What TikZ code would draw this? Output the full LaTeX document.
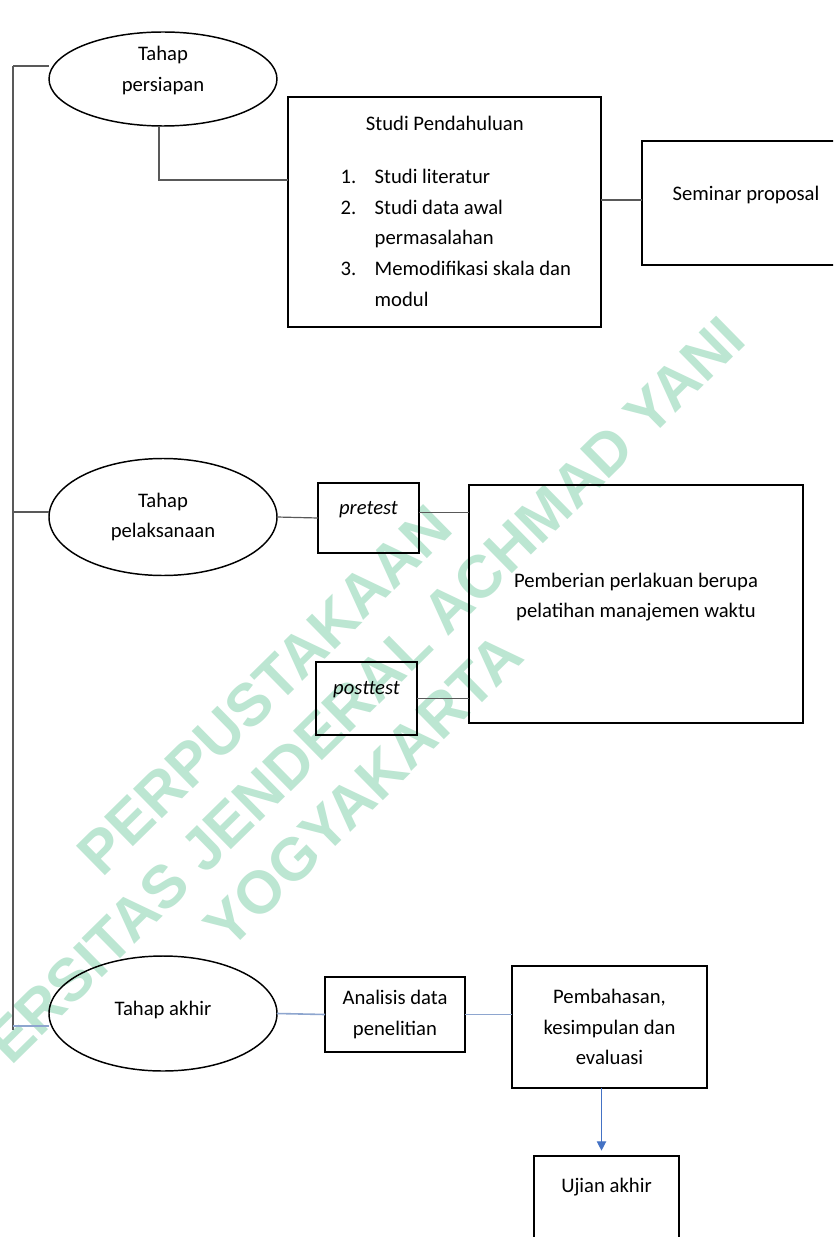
\documentclass[tikz,border=0pt]{standalone}
\usepackage{fontspec}
\setmainfont{Carlito}
\newfontfamily\wmfont{Liberation Sans}
\usepackage{tikz}
\usetikzlibrary{arrows.meta,shapes.geometric}
\definecolor{linkgray}{HTML}{595959}
\definecolor{linkblue}{HTML}{8EA6CF}
\definecolor{flowblue}{HTML}{4472C4}
\definecolor{wmgreen}{RGB}{188,230,210}

\begin{document}
\begin{tikzpicture}[x=0.75pt,y=-0.75pt,
  every node/.style={font=\fontsize{15.5}{23}\selectfont,inner sep=0pt,outer sep=0pt},
  oval/.style={draw,ellipse,line width=1.1pt,minimum width=171pt,align=center},
  box/.style={draw,rectangle,line width=1.2pt,align=center},
  link/.style={draw=linkgray,line width=0.9pt},
  linkb/.style={draw=linkblue,line width=1.2pt},
  flow/.style={draw=flowblue,line width=0.9pt,-{Triangle[width=7pt,length=7pt]},shorten >=4pt}]
  \useasboundingbox (0,0) rectangle (833,1237);
  \clip (0,0) rectangle (833,1237);
  \fill[white] (0,0) rectangle (833,1237);
  \node[wmgreen,rotate=44.5,align=center,font={\wmfont\bfseries\fontsize{45}{53}\selectfont}] (wm) at (314,740)
    {PERPUSTAKAAN\\UNIVERSITAS JENDERAL ACHMAD YANI\\YOGYAKARTA};

  \node[oval,minimum height=70.5pt,text depth=15pt] (prep) at (163,79) {Tahap\\persiapan};
  \node[box,minimum width=234.75pt,minimum height=172.5pt] (studi) at (444.5,212)
    {\hspace*{17pt}\begin{tabular}{@{}p{25.5pt}@{}l@{}}
      \multicolumn{2}{c}{Studi Pendahuluan\hspace*{16.5pt}}\\[17pt]
      1. & Studi literatur\\
      2. & Studi data awal\\
         & permasalahan\\
      3. & Memodifikasi skala dan\\
         & modul
    \end{tabular}};
  \node[box,minimum width=156pt,minimum height=93pt,text depth=15pt] (sem) at (746,203) {Seminar proposal};

  \node[oval,minimum height=87.75pt] (laks) at (163,517) {Tahap\\pelaksanaan};
  \node[box,minimum width=75.75pt,minimum height=52.5pt,text depth=15pt] (pre) at (368.5,518) {\itshape pretest};
  \node[box,minimum width=75.75pt,minimum height=54.75pt,text depth=16pt] (post) at (366.5,698.5) {\itshape posttest};
  \node[box,minimum width=250.5pt,minimum height=178.5pt,text depth=13pt] (beri) at (636,604)
    {Pemberian perlakuan berupa\\pelatihan manajemen waktu};

  \node[oval,minimum height=86.25pt,text depth=8pt] (akhir) at (163,1013.5) {Tahap akhir};
  \node[box,minimum width=105pt,minimum height=56.25pt] (anal) at (395,1014.5) {Analisis data\\penelitian};
  \node[box,minimum width=146.25pt,minimum height=91.5pt] (bahas) at (609.5,1027) {Pembahasan,\\kesimpulan dan\\evaluasi};
  \node[box,minimum width=108.75pt,minimum height=70.5pt,text depth=27pt] (ujian) at (606.5,1203) {Ujian akhir};

  \coordinate (r1) at (13,66);
  \coordinate (r2) at (13,512);
  \coordinate (r3) at (13,1026);
  \coordinate (rend) at (13,1030);
  \draw[link] (r1) -- (rend);
  \draw[link] (r1) -- (r1 -| prep.west);
  \draw[link] (r2) -- (r2 -| laks.west);
  \draw[linkb] (r3) -- (r3 -| akhir.west);

  \draw[link] ([xshift=-3pt]prep.south) |- ([yshift=24pt]studi.west);
  \coordinate (s1) at ([yshift=9pt]studi.east);
  \draw[link] (s1) -- (s1 -| sem.west);

  \draw[link] (laks.east) -- (pre.west);
  \coordinate (p1) at ([yshift=4pt]pre.east);
  \draw[link] (p1) -- (p1 -| beri.west);
  \draw[link] (post.east) -- (post.east -| beri.west);

  \draw[linkb] (akhir.east) -- (anal.west);
  \draw[linkb] (anal.east) -- (anal.east -| bahas.west);
  \coordinate (b1) at ([xshift=-6pt]bahas.south);
  \draw[flow] (b1) -- (b1 |- ujian.north);
\end{tikzpicture}
\end{document}
